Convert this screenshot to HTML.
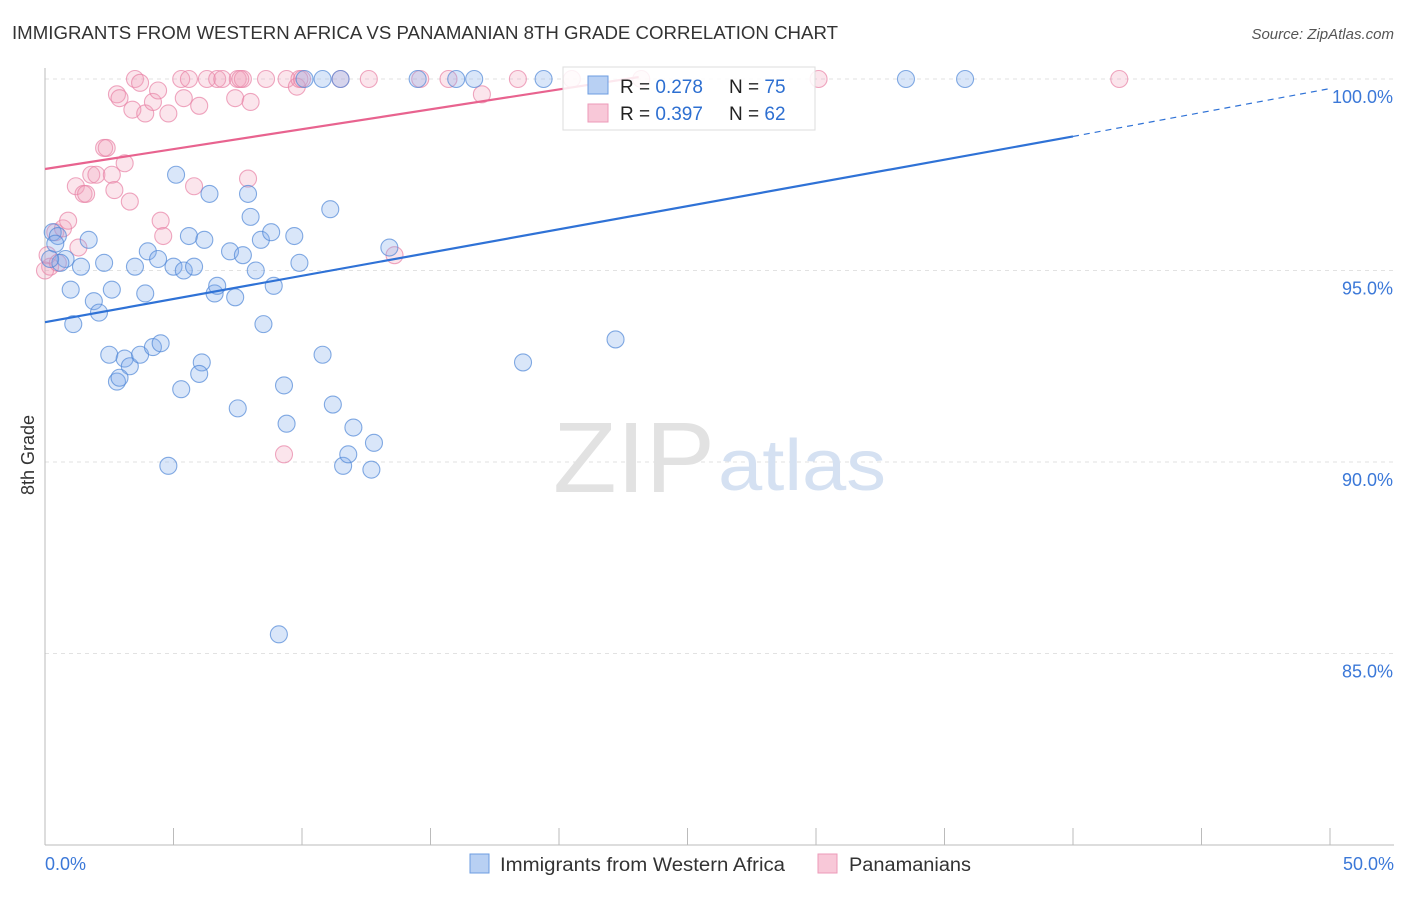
<!DOCTYPE html>
<html><head><meta charset="utf-8"><style>
body{margin:0;background:#fff;font-family:"Liberation Sans",sans-serif}
svg text{font-family:"Liberation Sans",sans-serif}
</style></head><body>
<svg id="c" width="1406" height="892">
<text x="12" y="39" font-size="18" fill="#333" textLength="826" lengthAdjust="spacingAndGlyphs">IMMIGRANTS FROM WESTERN AFRICA VS PANAMANIAN 8TH GRADE CORRELATION CHART</text>
<text x="1394" y="39" font-size="15" fill="#555" font-style="italic" text-anchor="end">Source: ZipAtlas.com</text>
<text x="34" y="455" font-size="18" fill="#333" transform="rotate(-90 34 455)" text-anchor="middle">8th Grade</text>
<g id="grid"></g>
<line x1="45" y1="68" x2="45" y2="845" stroke="#bbb"/>
<line x1="45" y1="845" x2="1394" y2="845" stroke="#bbb"/>
<text x="553" y="492" font-size="100" fill="#e2e2e2" font-family="Liberation Serif" textLength="162" lengthAdjust="spacingAndGlyphs">ZIP</text>
<text x="718" y="490" font-size="72" fill="#d5e1f2" textLength="168" lengthAdjust="spacingAndGlyphs">atlas</text>
<g id="pts"></g>
<g id="lines"></g>
<g>
<rect x="563" y="67" width="252" height="63" fill="rgba(255,255,255,0.85)" stroke="#ddd"/>
<rect x="588" y="76" width="20" height="18" fill="#b8d0f3" stroke="#6d9ce0"/>
<text x="620" y="93" font-size="19" fill="#222">R = <tspan fill="#2d6fd1">0.278</tspan></text>
<text x="729" y="93" font-size="19" fill="#222">N = <tspan fill="#2d6fd1">75</tspan></text>
<rect x="588" y="104" width="20" height="18" fill="#f8c8d8" stroke="#ec9ab8"/>
<text x="620" y="120" font-size="19" fill="#222">R = <tspan fill="#2d6fd1">0.397</tspan></text>
<text x="729" y="120" font-size="19" fill="#222">N = <tspan fill="#2d6fd1">62</tspan></text>
</g>
<g>
<rect x="470" y="854" width="19" height="19" fill="#b8d0f3" stroke="#6d9ce0"/>
<text x="500" y="871" font-size="19" fill="#333" textLength="285" lengthAdjust="spacingAndGlyphs">Immigrants from Western Africa</text>
<rect x="818" y="854" width="19" height="19" fill="#f8c8d8" stroke="#ec9ab8"/>
<text x="849" y="871" font-size="19" fill="#333" textLength="122" lengthAdjust="spacingAndGlyphs">Panamanians</text>
</g>
<text x="45" y="870" font-size="18" fill="#3b78d8">0.0%</text>
<text x="1394" y="870" font-size="18" fill="#3b78d8" text-anchor="end">50.0%</text>
</svg>
<script>
const yTicks=[100,95,90,85];
const xTicks=[0,5,10,15,20,25,30,35,40,45,50];
const blueX=[0.3,0.5,0.8,0.6,1.7,1.4,1.0,1.1,1.9,2.1,2.3,2.6,2.5,3.1,3.3,2.8,2.9,3.7,3.9,3.5,4.0,4.4,4.2,4.5,5.1,5.0,5.4,5.3,4.8,5.6,5.8,6.1,6.2,6.4,6.6,6.7,6.0,7.2,7.4,7.5,7.7,7.9,8.0,8.2,8.4,8.5,8.8,8.9,9.1,9.3,9.4,9.7,9.9,10.1,10.8,10.8,11.1,11.2,11.5,11.6,11.8,12.0,12.7,12.8,13.4,14.5,16.0,16.7,18.6,19.4,22.2,33.5,35.8,0.2,0.4];
const blueY=[96.0,95.9,95.3,95.2,95.8,95.1,94.5,93.6,94.2,93.9,95.2,94.5,92.8,92.7,92.5,92.1,92.2,92.8,94.4,95.1,95.5,95.3,93.0,93.1,97.5,95.1,95.0,91.9,89.9,95.9,95.1,92.6,95.8,97.0,94.4,94.6,92.3,95.5,94.3,91.4,95.4,97.0,96.4,95.0,95.8,93.6,96.0,94.6,85.5,92.0,91.0,95.9,95.2,100,92.8,100,96.6,91.5,100,89.9,90.2,90.9,89.8,90.5,95.6,100,100,100,92.6,100,93.2,100,100,95.3,95.7];
const pinkX=[0.2,0.1,0.4,0.7,0.9,1.2,1.3,1.5,1.6,1.8,2.0,2.3,2.4,2.6,2.7,2.8,2.9,3.1,3.3,3.4,3.5,3.7,3.9,4.2,4.4,4.5,4.6,4.8,5.3,5.4,5.6,5.8,6.0,6.3,6.7,6.9,7.4,7.5,7.7,7.9,8.0,8.6,9.3,9.4,9.8,9.9,11.5,12.6,13.6,14.6,15.7,17.0,18.4,20.5,23.2,30.1,41.8,7.6,10.0,0.0,0.5];
const pinkY=[95.1,95.4,96.0,96.1,96.3,97.2,95.6,97.0,97.0,97.5,97.5,98.2,98.2,97.5,97.1,99.6,99.5,97.8,96.8,99.2,100,99.9,99.1,99.4,99.7,96.3,95.9,99.1,100,99.5,100,97.2,99.3,100,100,100,99.5,100,100,97.4,99.4,100,90.2,100,99.8,100,100,100,95.4,100,100,99.6,100,100,100,100,100,100,100,95.0,95.2];
const X=v=>45+v*25.7, Y=v=>79+(100-v)*38.3;
const NS='http://www.w3.org/2000/svg';
const grid=document.getElementById('grid'),pts=document.getElementById('pts'),lines=document.getElementById('lines');
function mk(t,a,p){const e=document.createElementNS(NS,t);for(const k in a)e.setAttribute(k,a[k]);p.appendChild(e);return e;}
yTicks.forEach(v=>{
 const l=mk('line',{x1:45,x2:1394,y1:Y(v),y2:Y(v),stroke:'#e2e2e2','stroke-dasharray':'4 4'},grid);
 
 
 const t=mk('text',{x:1393,y:Y(v)+24,'font-size':18,fill:'#3b78d8','text-anchor':'end'},grid);
 t.textContent=v.toFixed(1)+'%';
 
 
});
xTicks.forEach(v=>{
 const l=mk('line',{x1:X(v),x2:X(v),y1:828,y2:845,stroke:'#bbb'},grid);
 
 
});
pinkX.forEach((x,i)=>{
 const c=mk('circle',{cx:X(x),cy:Y(pinkY[i]),r:8.5,fill:'rgba(242,160,188,0.28)',stroke:'rgba(232,130,165,0.7)','stroke-width':1.1},pts);
 
 
});
blueX.forEach((x,i)=>{
 const c=mk('circle',{cx:X(x),cy:Y(blueY[i]),r:8.5,fill:'rgba(130,172,235,0.3)',stroke:'rgba(80,135,215,0.7)','stroke-width':1.1},pts);
 
 
});
const bl=mk('line',{x1:X(0),y1:Y(93.65),x2:X(40),y2:Y(98.5),stroke:'#2f72d6','stroke-width':2.2},lines);


const bd=mk('line',{x1:X(40),y1:Y(98.5),x2:X(50),y2:Y(99.75),stroke:'#2f72d6','stroke-width':1.2,'stroke-dasharray':'6 5'},lines);


const pl=mk('line',{x1:X(0),y1:Y(97.65),x2:X(23.1),y2:Y(100.05),stroke:'#e8638f','stroke-width':2.2},lines);


</script>
</body></html>
